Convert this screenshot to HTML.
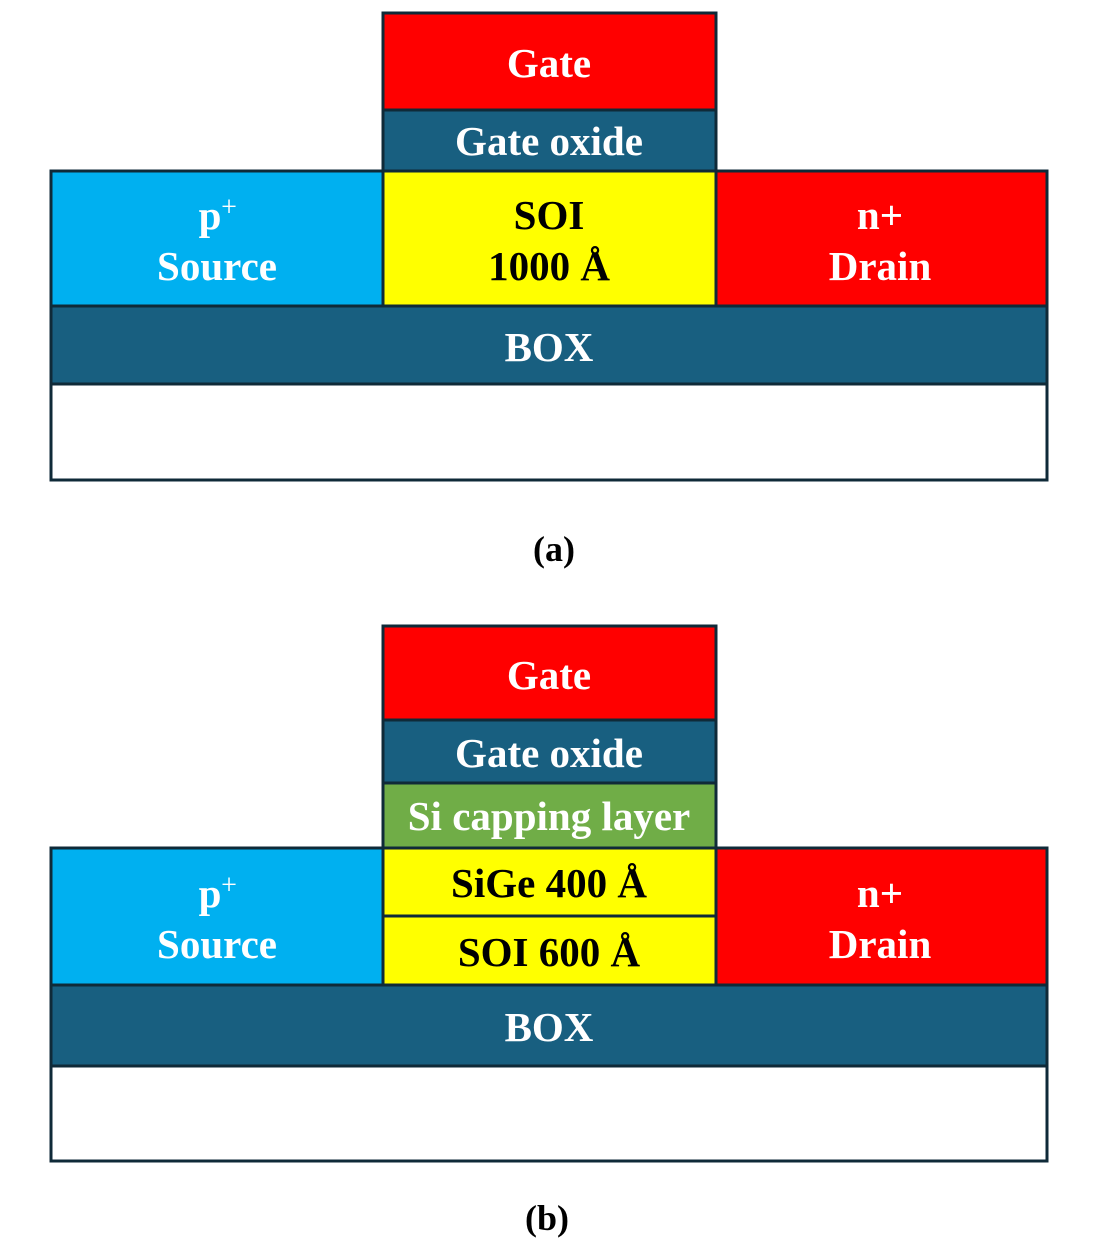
<!DOCTYPE html>
<html><head><style>
html,body{margin:0;padding:0;background:#fff;}
svg{display:block;}
svg text{font-family:'Liberation Serif','Times New Roman',Times,serif;font-weight:700;text-anchor:middle;}
.w{fill:#fff;font-size:41px;}
.k{fill:#000;font-size:41px;}
</style></head><body>
<svg width="1109" height="1243" viewBox="0 0 1109 1243" xmlns="http://www.w3.org/2000/svg" font-family="Liberation Serif, serif">
<g stroke="#0f2a38" stroke-width="3">
<rect x="383" y="13" width="333" height="97" fill="#ff0000"/>
<rect x="383" y="110" width="333" height="61" fill="#185f80"/>
<rect x="51" y="171" width="332" height="135" fill="#00b0f0"/>
<rect x="383" y="171" width="333" height="135" fill="#ffff00"/>
<rect x="716" y="171" width="331" height="135" fill="#ff0000"/>
<rect x="51" y="306" width="996" height="78" fill="#185f80"/>
<rect x="51" y="384" width="996" height="96" fill="#fff"/>
<rect x="383" y="626" width="333" height="94" fill="#ff0000"/>
<rect x="383" y="720" width="333" height="63" fill="#185f80"/>
<rect x="383" y="783" width="333" height="65" fill="#70ad47"/>
<rect x="51" y="848" width="332" height="137" fill="#00b0f0"/>
<rect x="383" y="848" width="333" height="68" fill="#ffff00"/>
<rect x="383" y="916" width="333" height="69" fill="#ffff00"/>
<rect x="716" y="848" width="331" height="137" fill="#ff0000"/>
<rect x="51" y="985" width="996" height="81" fill="#185f80"/>
<rect x="51" y="1066" width="996" height="95" fill="#fff"/>
</g>
<text class="w" x="549" y="77">Gate</text>
<text class="w" x="549" y="155">Gate oxide</text>
<text class="w" x="210" y="229">p</text><text class="w" x="229" y="216" style="font-size:28px;font-weight:400">+</text>
<text class="w" x="217" y="280">Source</text>
<text class="k" x="549" y="229">SOI</text>
<text class="k" x="549" y="280">1000 Å</text>
<text class="w" x="880" y="229">n+</text>
<text class="w" x="880" y="280">Drain</text>
<text class="w" x="549" y="361">BOX</text>
<text class="k" x="554" y="561" style="font-size:36px">(a)</text>
<text class="w" x="549" y="689">Gate</text>
<text class="w" x="549" y="767">Gate oxide</text>
<text class="w" x="549" y="830">Si capping layer</text>
<text class="w" x="210" y="907">p</text><text class="w" x="229" y="894" style="font-size:28px;font-weight:400">+</text>
<text class="w" x="217" y="958">Source</text>
<text class="k" x="549" y="897">SiGe 400 Å</text>
<text class="k" x="549" y="966">SOI 600 Å</text>
<text class="w" x="880" y="907">n+</text>
<text class="w" x="880" y="958">Drain</text>
<text class="w" x="549" y="1041">BOX</text>
<text class="k" x="547" y="1230" style="font-size:36px">(b)</text>
</svg>
</body></html>
